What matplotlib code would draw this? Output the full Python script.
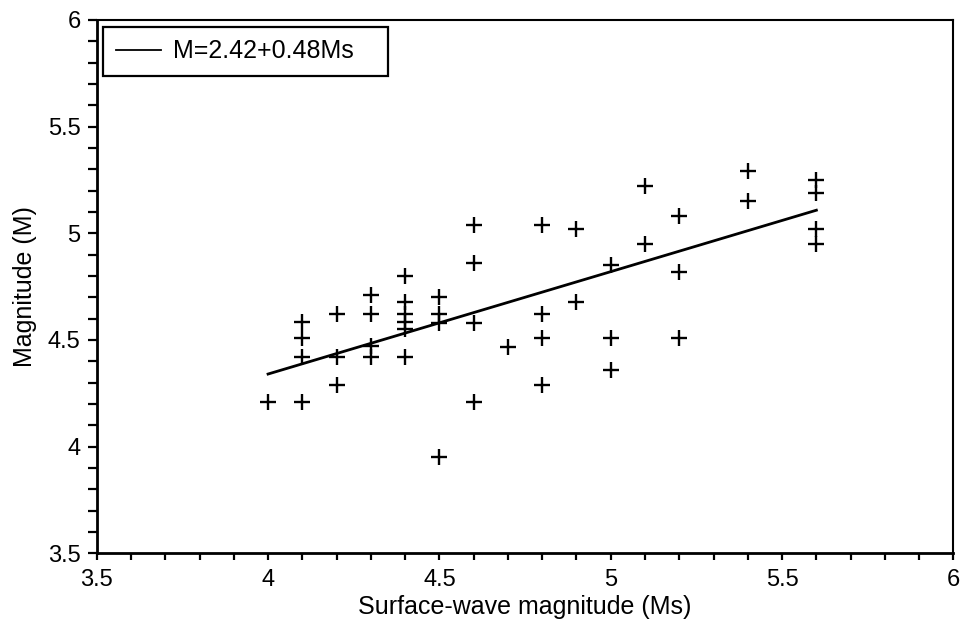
import matplotlib
matplotlib.use("Agg")
import matplotlib.pyplot as plt
import numpy as np
from matplotlib.ticker import MultipleLocator

plt.rcParams['font.family'] = ['Liberation Sans', 'DejaVu Sans']

ms_values = [4.0, 4.1, 4.1, 4.1, 4.1, 4.2, 4.2, 4.2,
             4.3, 4.3, 4.3, 4.3,
             4.4, 4.4, 4.4, 4.4, 4.4, 4.4,
             4.5, 4.5, 4.5, 4.5,
             4.6, 4.6, 4.6, 4.6,
             4.7,
             4.8, 4.8, 4.8, 4.8,
             4.9, 4.9,
             5.0, 5.0, 5.0,
             5.1, 5.1,
             5.2, 5.2, 5.2,
             5.4, 5.4,
             5.6, 5.6, 5.6, 5.6]
m_values = [4.21, 4.21, 4.42, 4.51, 4.585, 4.62, 4.42, 4.29,
            4.71, 4.62, 4.47, 4.42,
            4.80, 4.68, 4.62, 4.585, 4.55, 4.42,
            4.70, 4.62, 4.58, 3.95,
            5.04, 4.86, 4.58, 4.21,
            4.465,
            5.04, 4.62, 4.51, 4.29,
            5.02, 4.68,
            4.85, 4.51, 4.36,
            5.22, 4.95,
            5.08, 4.82, 4.51,
            5.29, 5.15,
            5.25, 5.19, 5.02, 4.95]

fit_intercept = 2.42
fit_slope = 0.48
fit_x = [4.0, 5.6]
fit_label = "M=2.42+0.48Ms"
tick_values = [3.5, 4, 4.5, 5, 5.5, 6]
tick_labels = ['3.5', '4', '4.5', '5', '5.5', '6']

fig = plt.figure(figsize=(9.67, 6.23), dpi=100)
ax = fig.add_axes([0.1, 0.112, 0.886, 0.856])

ax.plot(ms_values, m_values, linestyle='none', marker='+', markersize=11,
        markeredgewidth=1.7, color='black')
fx = np.array(fit_x)
ax.plot(fx, fit_intercept + fit_slope * fx, color='black', linewidth=2.0, label=fit_label)

ax.set_xlim(3.5, 6)
ax.set_ylim(3.5, 6)
ax.xaxis.set_minor_locator(MultipleLocator(0.1))
ax.yaxis.set_minor_locator(MultipleLocator(0.1))
ax.set_xticks(tick_values)
ax.set_xticklabels(tick_labels)
ax.set_yticks(tick_values)
ax.set_yticklabels(tick_labels)

ax.tick_params(axis='x', which='both', direction='out', length=5, width=1.6,
               labelsize=17, color='black', top=False, pad=6)
ax.tick_params(axis='y', which='both', direction='out', length=6.5, width=1.6,
               labelsize=17, color='black', right=False, pad=5)

for side in ['left', 'bottom']:
    ax.spines[side].set_linewidth(2.0)
for side in ['top', 'right']:
    ax.spines[side].set_linewidth(1.5)

ax.set_xlabel('Surface-wave magnitude (Ms)', fontsize=18, labelpad=3)
ax.set_ylabel('Magnitude (M)', fontsize=18, labelpad=8)

leg = ax.legend(loc='upper left', fontsize=18, frameon=True, fancybox=False,
                borderpad=0.5, handlelength=1.8, handletextpad=0.5,
                bbox_to_anchor=(0.0074, 0.987, 0.333, 0.0), mode='expand',
                borderaxespad=0.0)
leg.get_frame().set_edgecolor('black')
leg.get_frame().set_linewidth(1.6)
leg.get_frame().set_alpha(None)
leg.get_lines()[0].set_linewidth(1.3)

fig.savefig('out.png', dpi=100)
